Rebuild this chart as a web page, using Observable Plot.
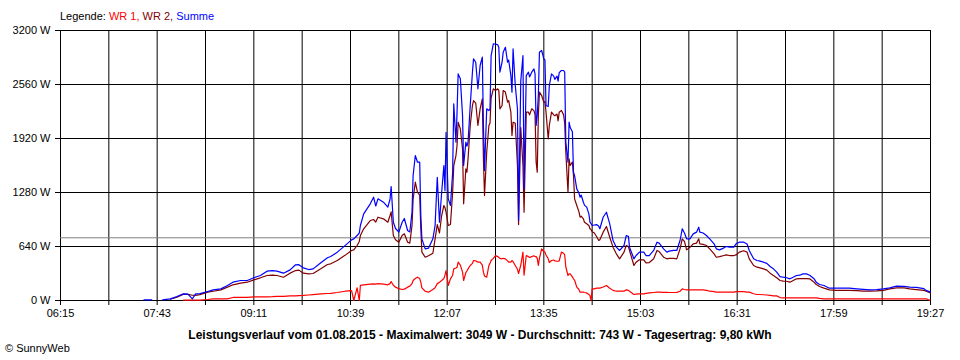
<!DOCTYPE html>
<html><head><meta charset="utf-8">
<script src="https://cdn.jsdelivr.net/npm/d3@7"></script>
<script src="https://cdn.jsdelivr.net/npm/@observablehq/plot@0.6"></script>
<style>
html,body{margin:0;padding:0;background:#fff;}
body{width:960px;height:360px;overflow:hidden;font-family:"Liberation Sans",Arial,sans-serif;color:#000;}
#legend{box-sizing:border-box;height:24px;padding:10px 0 0 60px;font-size:11px;line-height:13px;white-space:nowrap;}
#chart svg{display:block;}
#caption{box-sizing:border-box;height:18px;padding-top:3px;font-size:12px;line-height:16px;font-weight:bold;text-align:center;white-space:nowrap;}
#credit{padding-left:5px;font-size:11px;line-height:13px;white-space:nowrap;}
</style></head><body>
<div id="legend"></div>
<div id="chart"></div>
<div id="caption"></div>
<div id="credit"></div>
<script>
// ---- data ----
const legendLabel = "Legende:";
const seriesNames = ["WR 1", "WR 2", "Summe"];
const seriesColors = ["#ff0000", "#800000", "#0000ff"];
const captionText = "Leistungsverlauf vom 01.08.2015 - Maximalwert: 3049 W - Durchschnitt: 743 W - Tagesertrag: 9,80 kWh";
const creditText = "\u00a9 SunnyWeb";
const averageW = 743;
const yTicks = [0, 640, 1280, 1920, 2560, 3200];
const xGrid = ["06:15","06:59","07:43","08:27","09:11","09:55","10:39","11:23","12:07","12:51","13:35","14:19","15:03","15:47","16:31","17:15","17:59","18:43","19:27"];
const xLabels = ["06:15","07:43","09:11","10:39","12:07","13:35","15:03","16:31","17:59","19:27"];

const times = ["07:31","07:38","07:40","07:47","07:48","07:55","08:01","08:07","08:11","08:15","08:18","08:22","08:29","08:34","08:41","08:47","08:52","08:59","09:05","09:11","09:17","09:23","09:28","09:32","09:38","09:44","09:49","09:52","09:56","10:01","10:05","10:12","10:18","10:21","10:27","10:34","10:40","10:42","10:45","10:47","10:48","10:51","10:57","11:00","11:02","11:04","11:09","11:13","11:15","11:16","11:18","11:20","11:23","11:26","11:28","11:31","11:33","11:35","11:36","11:38","11:40","11:42","11:43","11:44","11:47","11:50","11:54","11:56","11:58","12:00","12:02","12:04","12:05","12:06","12:08","12:10","12:12","12:13","12:15","12:16","12:17","12:19","12:21","12:22","12:24","12:25","12:26","12:28","12:30","12:31","12:33","12:35","12:37","12:39","12:40","12:41","12:43","12:45","12:46","12:47","12:49","12:51","12:53","12:54","12:55","12:57","12:58","13:00","13:02","13:03","13:05","13:06","13:07","13:09","13:11","13:12","13:14","13:16","13:17","13:19","13:21","13:22","13:24","13:26","13:27","13:28","13:29","13:30","13:31","13:33","13:35","13:36","13:37","13:39","13:40","13:42","13:44","13:45","13:47","13:48","13:49","13:51","13:53","13:54","13:55","13:57","13:58","13:59","14:01","14:02","14:03","14:05","14:07","14:08","14:09","14:11","14:12","14:14","14:16","14:17","14:18","14:19","14:21","14:23","14:25","14:26","14:29","14:32","14:35","14:38","14:41","14:44","14:48","14:50","14:52","14:53","14:57","14:59","15:02","15:06","15:08","15:11","15:15","15:18","15:20","15:24","15:27","15:29","15:33","15:36","15:39","15:41","15:43","15:45","15:48","15:51","15:54","15:56","15:57","16:00","16:03","16:06","16:10","16:12","16:15","16:19","16:21","16:24","16:28","16:30","16:33","16:37","16:40","16:42","16:46","16:49","16:51","16:55","16:58","17:01","17:04","17:07","17:10","17:13","17:16","17:19","17:22","17:25","17:28","17:31","17:34","17:37","17:41","17:43","17:46","17:50","17:55","18:01","18:08","18:13","18:20","18:26","18:32","18:38","18:44","18:50","18:56","19:03","19:08","19:14","19:21","19:23","19:27"];

const summe = [8,8,null,null,8,20,47,79,75,20,79,82,107,126,138,178,217,237,237,269,296,348,355,348,324,363,423,425,387,367,375,447,506,521,573,650,719,730,770,800,889,1027,1146,1224,1120,1205,1165,1106,1200,1351,928,853,810,928,972,830,812,1046,1481,1718,1639,1639,1007,731,612,620,731,889,1461,928,1283,1600,1300,1994,1205,1126,1520,2331,1876,2232,2686,2627,2192,1600,1876,1830,1876,2311,2706,2864,2824,2509,2785,2884,2074,1541,2272,2250,2272,2900,3042,3040,3030,3002,2706,2824,2943,3002,2824,2850,2666,2469,2982,2548,2272,950,2600,2903,1323,2666,2706,2650,2706,2745,2686,2074,2200,2429,2943,2963,2864,2850,2311,2300,2548,2686,2660,2620,2660,2600,2700,2726,2726,2706,1876,1639,2113,2050,2000,1520,1480,1323,1270,1224,1250,1165,1130,1106,1027,928,910,889,895,900,880,850,987,1046,909,711,632,593,652,770,760,632,494,533,573,573,533,533,593,691,680,612,573,585,593,593,711,850,800,731,731,790,810,869,810,800,770,731,672,612,600,624,640,632,632,672,691,691,670,593,494,474,470,454,440,403,375,336,284,276,270,257,276,296,300,316,316,300,257,217,190,178,146,146,148,146,138,132,126,130,138,150,170,168,158,155,140,120,99];

const wr2 = [null,null,null,null,null,15,40,75,72,62,60,70,99,110,126,158,186,205,217,245,269,296,300,296,276,324,355,360,324,316,320,375,427,435,474,535,593,600,652,700,770,850,948,960,930,987,968,928,1007,1050,770,720,691,770,790,691,680,889,1200,1402,1283,1250,850,573,513,530,560,731,900,800,1007,1126,1100,1046,889,900,1283,1600,1718,1837,2113,2034,1797,1146,1560,1520,1679,2074,2311,2370,2340,2074,2272,2390,1679,1244,1757,2074,2100,2400,2509,2490,2509,2490,2272,2311,2489,2470,2350,2370,2232,1955,2113,2100,1600,900,2050,1600,1046,2232,2232,2200,2272,2250,2200,1639,1520,2192,2469,2429,2350,2360,2232,1916,2074,2232,2200,2190,2210,2130,2232,2252,2200,2100,1757,1283,1679,1600,1640,1481,1205,1126,1050,987,1000,968,928,910,889,850,840,815,800,758,711,720,810,877,750,632,553,494,573,652,640,593,415,454,482,482,446,450,494,593,580,513,494,500,500,494,612,731,700,600,630,672,680,731,672,665,652,612,553,513,520,533,540,533,533,540,573,590,573,494,415,395,390,375,360,324,296,269,237,230,228,217,237,257,260,260,260,257,217,190,166,146,126,120,120,120,118,110,112,115,120,138,150,150,138,130,120,110,90];

const wr1 = [null,null,null,null,null,null,null,5,5,5,5,5,12,20,20,20,36,36,36,43,43,43,45,48,50,55,55,58,60,65,70,79,83,85,95,110,118,0,150,0,180,186,195,198,195,200,195,186,200,225,180,158,140,130,135,158,170,200,237,260,276,260,217,150,110,99,130,150,200,217,237,260,300,355,178,257,300,375,385,395,454,420,336,237,330,350,375,415,440,474,470,454,454,420,336,290,276,415,440,474,500,533,520,513,500,494,500,494,470,454,454,474,460,415,370,320,420,573,300,533,520,510,520,530,520,520,500,415,500,612,580,573,540,494,450,474,480,470,465,465,470,573,560,540,400,296,316,316,280,257,240,158,130,99,99,99,95,90,70,59,0,138,138,146,146,146,160,178,146,120,110,110,110,126,120,110,71,75,79,79,85,90,95,99,99,97,97,95,95,97,110,138,130,126,126,126,126,126,126,126,120,110,105,99,99,99,99,99,99,105,105,105,99,99,80,71,71,68,65,60,55,55,35,32,32,32,32,32,32,32,32,32,32,32,25,20,20,20,20,20,20,20,20,20,20,20,20,20,20,20,20,20,0];

// ---- build ----
const toMin = s => { const [h, m] = s.split(":").map(Number); return h * 60 + m; };
const rows = times.map((t, i) => ({t: toMin(t), wr1: wr1[i], wr2: wr2[i], summe: summe[i]}));
const labelMap = new Map(xLabels.map(s => [toMin(s), s]));

const leg = document.getElementById("legend");
leg.appendChild(document.createTextNode(legendLabel + " "));
seriesNames.forEach((n, i) => {
  const sp = document.createElement("span");
  sp.style.color = seriesColors[i];
  sp.textContent = n + (i < seriesNames.length - 1 ? "," : "");
  leg.appendChild(sp);
  if (i < seriesNames.length - 1) leg.appendChild(document.createTextNode(" "));
});
document.getElementById("caption").textContent = captionText;
document.getElementById("credit").textContent = creditText;

const keys = ["wr1", "wr2", "summe"];
const chart = Plot.plot({
  width: 960,
  height: 300,
  marginLeft: 60,
  marginRight: 30,
  marginTop: 6,
  marginBottom: 24,
  style: {fontFamily: "'Liberation Sans', Arial, sans-serif", fontSize: "11px", color: "#000", background: "#fff", overflow: "visible"},
  x: {type: "linear", domain: [toMin(xGrid[0]), toMin(xGrid[xGrid.length - 1])]},
  y: {domain: [yTicks[0], yTicks[yTicks.length - 1]]},
  marks: [
    Plot.ruleX(xGrid.map(toMin), {stroke: "#000"}),
    Plot.ruleY(yTicks, {stroke: "#000"}),
    Plot.ruleY([averageW], {stroke: "#808080"}),
    ...keys.map((k, i) => Plot.line(rows, {x: "t", y: k, stroke: seriesColors[i], strokeWidth: 1.2, curve: "linear"})),
    Plot.axisX(xGrid.map(toMin), {tickSize: 5, tickPadding: 4, tickFormat: d => labelMap.get(d) || "", label: null, color: "#000"}),
    Plot.axisY(yTicks, {tickSize: 5, tickPadding: 5, tickFormat: d => d + " W", label: null, color: "#000"})
  ]
});
document.getElementById("chart").appendChild(chart);
</script>
</body></html>
